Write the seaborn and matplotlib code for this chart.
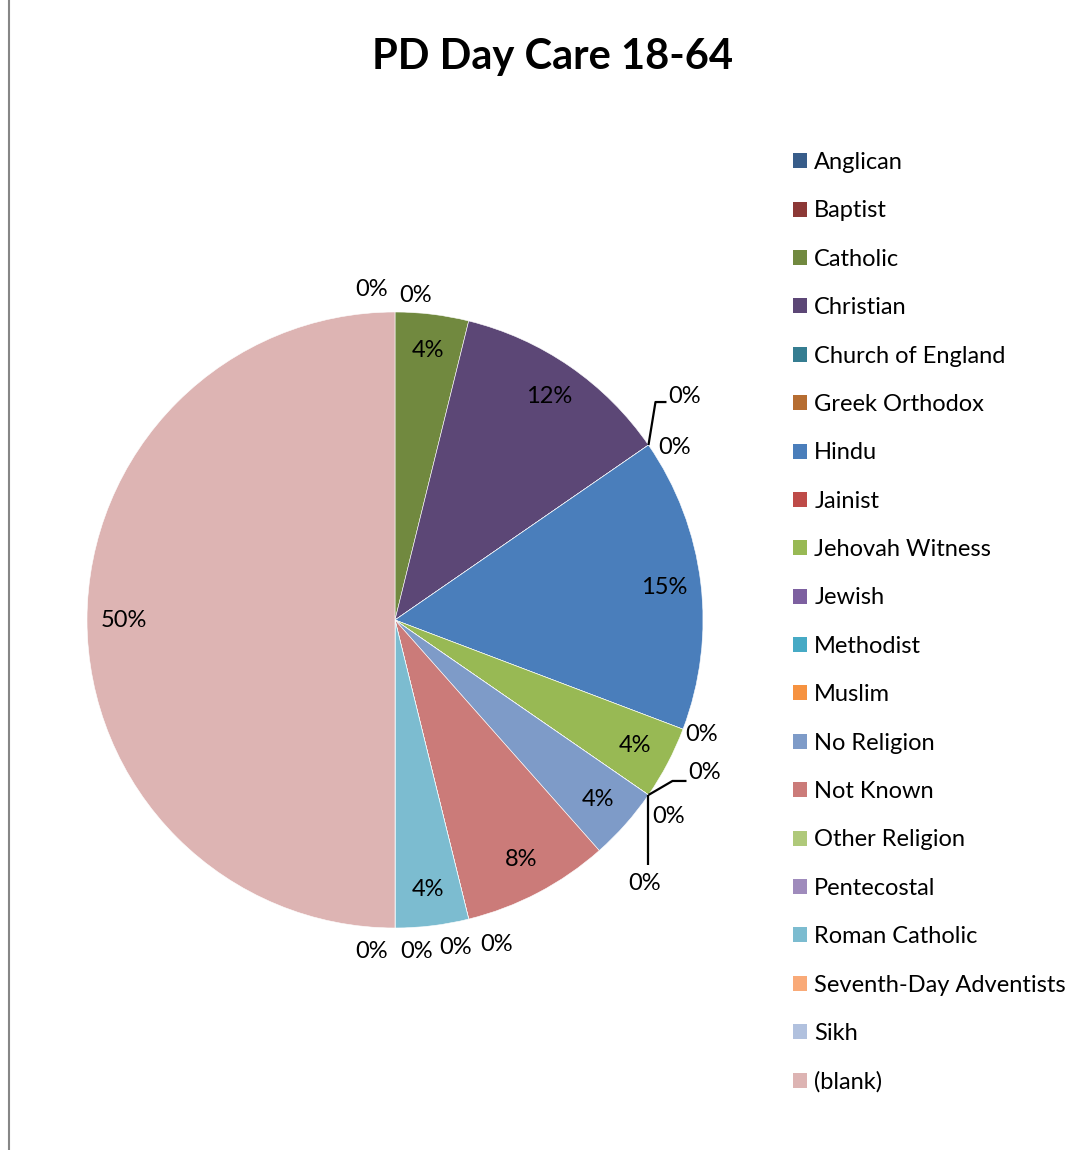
import numpy as np
import matplotlib
matplotlib.use("Agg")
import matplotlib.pyplot as plt
from matplotlib.lines import Line2D
from matplotlib.patches import Patch
import seaborn as sns

# data: head counts behind the percentages
religions = ["Anglican", "Baptist", "Catholic", "Christian", "Church of England",
             "Greek Orthodox", "Hindu", "Jainist", "Jehovah Witness", "Jewish",
             "Methodist", "Muslim", "No Religion", "Not Known", "Other Religion",
             "Pentecostal", "Roman Catholic", "Seventh-Day Adventists", "Sikh", "(blank)"]
counts = [0, 0, 1, 3, 0, 0, 4, 0, 1, 0, 0, 0, 1, 2, 0, 0, 1, 0, 0, 13]
colors = ["#385D8A", "#8C3836", "#71893F", "#5C4776", "#357D91", "#B66D31",
          "#4A7EBB", "#BE4B48", "#98B954", "#7D60A0", "#46AAC5", "#F69240",
          "#7E9BC8", "#CB7B79", "#AFC97A", "#9F8BBC", "#7CBCD0", "#F9AA78",
          "#B1C1DE", "#DDB4B3"]
title = "PD Day Care 18-64"

# pixel offsets of the 0% labels from their slice edge (Excel's auto placement)
zero_offsets = {
    "Anglican": (-23, 23), "Baptist": (21, 17),
    "Church of England": (36, 49), "Greek Orthodox": (26, -2),
    "Jainist": (19, -5),
    "Jewish": (56, 22), "Methodist": (20, -22), "Muslim": (-4, -89),
    "Other Religion": (28, -25), "Pentecostal": (-13, -28),
    "Seventh-Day Adventists": (22, -24), "Sikh": (-23, -24),
}
# leader lines (pixels relative to slice edge)
leaders = {
    "Church of England": [(0, 0), (7, 43), (18, 43)],
    "Jewish": [(0, 0), (24, 14), (38, 14)],
    "Muslim": [(0, 0), (0, -70)],
}

sns.set_theme(style="white")
plt.rcParams["font.family"] = ["Lato", "DejaVu Sans"]
plt.rcParams["text.color"] = "black"

W, H, DPI = 1086, 1150, 100
R = 308.0
cx, cy = 395.0, 620.0
FS = 17

fig = plt.figure(figsize=(W / DPI, H / DPI), dpi=DPI)
ax = fig.add_axes([0, 0, 1, 1])

wedges, _ = ax.pie(counts, colors=colors, startangle=90, counterclock=False,
                   radius=1.0, wedgeprops=dict(edgecolor="white", linewidth=0.4))
ax.set_xlim(-cx / R, (W - cx) / R)
ax.set_ylim(-(H - cy) / R, cy / R)
ax.set_aspect("equal")
ax.axis("off")

total = sum(counts)
cum = np.cumsum([0] + counts)
for i, (name, c) in enumerate(zip(religions, counts)):
    pct = f"{round(100 * c / total):.0f}%"
    if c > 0:
        mid = np.deg2rad(360 * (cum[i] + c / 2) / total)
        ax.text(0.88 * np.sin(mid), 0.88 * np.cos(mid), pct, ha="center",
                va="center", fontsize=FS, color="black")
    else:
        a = np.deg2rad(360 * cum[i] / total)
        x0, y0 = np.sin(a), np.cos(a)
        dx, dy = zero_offsets[name]
        ax.text(x0 + dx / R, y0 + dy / R, pct, ha="center", va="center",
                fontsize=FS, color="black")
        if name in leaders:
            pts = np.array(leaders[name]) / R
            ax.plot(x0 + pts[:, 0], y0 + pts[:, 1], color="black", lw=1.6,
                    solid_capstyle="butt")

fig.text(553 / W, 1 - 57 / H, title, ha="center", va="center",
         fontsize=30, fontweight="bold", color="black")

handles = [Patch(facecolor=col, edgecolor="none") for col in colors]
fig.legend(handles, religions, loc="upper left", bbox_to_anchor=(793 / W, 1 - 152 / H),
           frameon=False, fontsize=FS, handlelength=0.6, handleheight=0.6,
           handletextpad=0.3, labelspacing=1.16, borderpad=0, borderaxespad=0)

fig.add_artist(Line2D([8.5 / W, 8.5 / W], [0, 1], color="#868686", lw=1.5,
                      transform=fig.transFigure))

fig.savefig("out.png", dpi=DPI)
